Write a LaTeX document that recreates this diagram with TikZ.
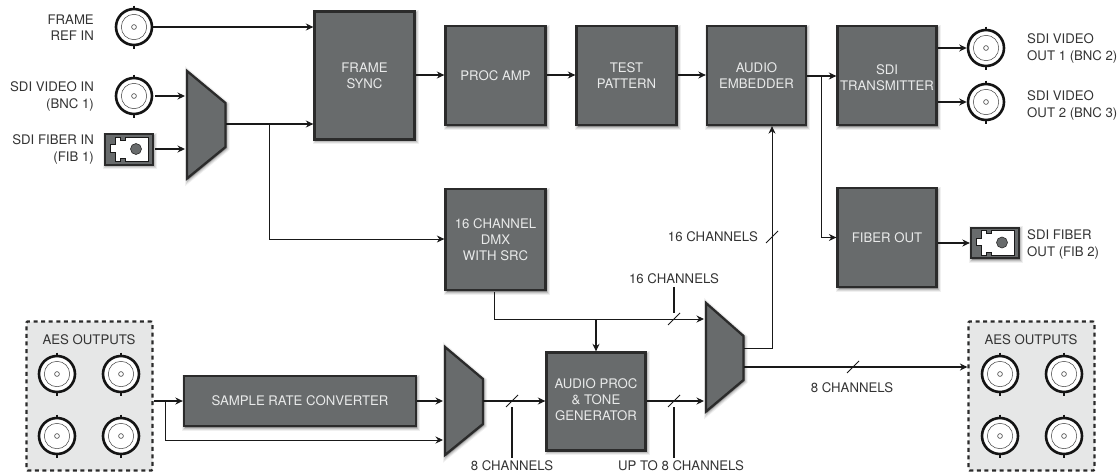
\documentclass[tikz,border=0pt]{standalone}
\usepackage{fontspec}
\setmainfont{TeX Gyre Heros}
\usetikzlibrary{arrows.meta,shadows,calc}
\definecolor{boxgray}{HTML}{686B6C}
\definecolor{edgegray}{HTML}{2B2B2B}
\definecolor{lblgray}{HTML}{333333}
\definecolor{panelgray}{HTML}{E6E7E7}
\definecolor{intext}{HTML}{E9EAEA}
\tikzset{
  softshadow/.style={
    general shadow={shadow xshift=1pt,shadow yshift=-1.5pt,opacity=.06,fill=black,draw=black,line width=6pt},
    general shadow={shadow xshift=1pt,shadow yshift=-1.5pt,opacity=.09,fill=black,draw=black,line width=4pt},
    general shadow={shadow xshift=1pt,shadow yshift=-1.5pt,opacity=.12,fill=black,draw=black,line width=2pt}},
  blockbase/.style={draw=edgegray,fill=boxgray,line width=2.3pt,softshadow,inner sep=0pt},
  block/.style={blockbase,align=center,text=intext,font=\fontsize{13.2}{16.2}\selectfont},
  blocktext/.style={inner sep=0pt,align=center,text=intext,font=\fontsize{13.2}{16.2}\selectfont},
  mux/.style={draw=edgegray,fill=boxgray,line width=2.3pt,line join=miter,softshadow},
  lbl/.style={text=lblgray,inner sep=0pt,font=\fontsize{13.2}{16.4}\selectfont},
  thickline/.style={draw=black!90,line width=1.5pt,-{Stealth[length=7.5pt,width=7pt]}},
  thinline/.style={draw=black!90,line width=1pt},
  thinarrow/.style={thinline,-{Stealth[length=7.5pt,width=7pt]}},
  slashmark/.style={draw=black!90,line width=.9pt},
  leader/.style={draw=black!90,line width=1.5pt},
  bncbody/.style={circle,draw=black!92,fill=white,line width=2.6pt,minimum size=36pt,inner sep=0pt},
  panel/.style={draw=edgegray,fill=panelgray,line width=2.2pt,dash pattern=on 4pt off 3.6pt,rounded corners=1pt},
}
% \bnc{name}{x}{y}
\newcommand{\bnc}[3]{%
  \draw[line width=1.2pt,black!92] (#2,#3-21.5) -- (#2,#3+21.5);
  \node[bncbody] (#1) at (#2,#3) {};
  \draw[line width=.5pt,black!75] (#2,#3) circle (12.7);
  \draw[line width=.6pt,black!75] (#2,#3) circle (2.4);
}
% \fiber{name}{x}{y}  centre of the connector
\newcommand{\fiber}[3]{%
  \node[blockbase,minimum width=48pt,minimum height=30.5pt] (#1) at (#2,#3) {};
  \fill[white,draw=black!90,line width=.7pt,shift={(#2,#3)}]
    (-14,-12.3) -- (-8.3,-12.3) -- (-8.3,-9.3) -- (-4,-9.3) -- (-4,-12.3) -- (19,-12.3) -- (19,12.3) -- (-4,12.3)
    -- (-4,9.3) -- (-8.3,9.3) -- (-8.3,12.3) -- (-14,12.3) -- (-14,2.8) -- (-19,2.8) -- (-19,-4.8) -- (-14,-4.8) -- cycle;
  \fill[boxgray,draw=edgegray,line width=.6pt] (#2+7,#3-.5) circle (5.5);
}
\begin{document}
\begin{tikzpicture}[x=1pt,y=-1pt]
\useasboundingbox (0,0) rectangle (1118,474);

% panels
\node[panel,minimum width=126pt,minimum height=149pt,inner sep=0pt] (aesL) at (89.5,396) {};
\node[panel,minimum width=126pt,minimum height=149pt,inner sep=0pt] (aesR) at (1031.5,396) {};
\node[lbl] (aesLt) at (89,339.5) {AES OUTPUTS};
\node[lbl] (aesRt) at (1031,339.5) {AES OUTPUTS};

\coordinate (split) at (269,124);
\coordinate (txsplit) at (821,76);
\coordinate (srcsplit) at (165,401);
\coordinate (mix) at (596,319);

% blocks
\node[block,minimum width=100pt,minimum height=128pt] (sync) at (364.5,75.5) {FRAME\\SYNC};
\node[block,minimum width=100pt,minimum height=99pt] (proc) at (495.5,75.5) {PROC AMP};
\node[block,minimum width=100pt,minimum height=99pt] (test) at (626.5,75.5) {TEST\\PATTERN};
\node[block,minimum width=99pt,minimum height=99pt] (emb) at (756.5,75.5) {AUDIO\\EMBEDDER};
\node[block,minimum width=99pt,minimum height=99pt] (tx) at (887,75.5) {};
\node[blocktext] (txtext) at (887,78) {SDI\\TRANSMITTER};
\node[block,minimum width=99pt,minimum height=99pt] (fib) at (887,237.5) {FIBER OUT};
\node[block,minimum width=100pt,minimum height=101pt] (dmx) at (495.5,239.5) {16 CHANNEL\\DMX\\WITH SRC};
\node[block,minimum width=232pt,minimum height=50pt] (src) at (300,401) {SAMPLE RATE CONVERTER};
\node[block,minimum width=99pt,minimum height=98pt] (aud) at (596,401.5) {};
\node[blocktext] (audtext) at (596,399.5) {AUDIO PROC\\\& TONE\\GENERATOR};

% muxes
\path[mux] (187,71) -- (225.5,103) -- (225.5,147) -- (187,178.5) -- cycle;
\path[mux] (445,347) -- (483,379) -- (483,424) -- (445,455) -- cycle;
\path[mux] (706,303) -- (743.5,336) -- (743.5,380) -- (706,411.5) -- cycle;
\coordinate (muxA) at (225.5,124);
\coordinate (muxAi1) at (185,96);
\coordinate (muxAi2) at (185,149);
\coordinate (muxB) at (483,401);
\coordinate (muxBi1) at (443,401);
\coordinate (muxBi2) at (443,440);
\coordinate (muxC) at (743.5,348);
\coordinate (muxCo) at (743.5,367);
\coordinate (muxCi1) at (704,319);
\coordinate (muxCi2) at (704,401);

% connectors
\bnc{frameref}{134}{27}
\bnc{sdiin}{134}{96}
\fiber{fibin}{129}{149.5}
\bnc{out1}{986}{48}
\bnc{out2}{986}{102}
\fiber{fibout}{995}{243}
\bnc{al1}{57}{374}
\bnc{al2}{121}{374}
\bnc{al3}{57}{436}
\bnc{al4}{121}{436}
\bnc{ar1}{1000}{374}
\bnc{ar2}{1064}{374}
\bnc{ar3}{1000}{436}
\bnc{ar4}{1064}{436}

\draw[thickline] (frameref.east) -- (sync.west |- frameref);
\draw[thickline] (sdiin.east) ++(2,0) -- (muxAi1);
\draw[thickline] (fibin.east) ++(1,-.5) -- (muxAi2);
\draw[thickline] (muxA) -- (sync.west |- muxA);
\draw[thinarrow] (split) |- (dmx.west |- 0,239);
\draw[thickline] (sync.east |- 0,75) -- (proc.west |- 0,75);
\draw[thickline] (proc.east |- 0,75) -- (test.west |- 0,75);
\draw[thickline] (test.east |- 0,75) -- (emb.west |- 0,75);
\draw[thickline] (emb.east |- txsplit) -- (tx.west |- txsplit);
\draw[thinarrow] (txsplit) |- (fib.west);
\draw[thickline] (tx.east |- out1) -- (out1.west);
\draw[thickline] (tx.east |- out2) -- (out2.west);
\draw[thickline] (fib.east |- fibout) -- (fibout.west);
\draw[thinarrow] (dmx.south) ++(-1,1) |- (muxCi1);
\draw[thickline] (mix) -- (aud.north);
\draw[thinarrow] (muxC) -| (emb.south -| 772,0);
\draw[thickline] (muxCo) -- (aesR.west |- muxCo);
\draw[thickline] (aud.east |- muxCi2) -- (muxCi2);
\draw[thickline] (muxB) -- (aud.west |- muxB);
\draw[thickline] (src.east |- muxBi1) -- (muxBi1);
\draw[thinarrow] (srcsplit) |- (muxBi2);
\draw[thickline] (aesL.east |- src) -- (src.west);

% slash marks and leaders
\coordinate (t1) at (674,319);
\coordinate (t2) at (674,401);
\coordinate (t3) at (512,401);
\coordinate (t4) at (853,367);
\coordinate (t5) at (772,237);
\foreach \t in {t1,t2,t3,t4,t5}
  \draw[slashmark] ($(\t)+(-6,6)$) -- ($(\t)+(6,-6)$);

\node[lbl,anchor=center] (l16a) at (674,278.5) {16 CHANNELS};
\node[lbl,anchor=east] (l16b) at (758,236.5) {16 CHANNELS};
\node[lbl] (l8a) at (512,466) {8 CHANNELS};
\node[lbl] (l8b) at (681,466) {UP TO 8 CHANNELS};
\node[lbl] (l8c) at (852,388) {8 CHANNELS};
\draw[leader] (l16a.south -| t1) ++(0,3) -- (674,313);
\draw[leader] (t2) ++(0,6) -- ($(l8b.north -| t2)+(0,-3)$);
\draw[leader] (t3) ++(0,6) -- ($(l8a.north -| t3)+(0,-3)$);

% labels
\node[lbl,align=right,anchor=east] (tl1) at (94,27.5) {FRAME\\REF IN};
\node[lbl,align=right,anchor=east] (tl2) at (94,96.5) {SDI VIDEO IN\\(BNC 1)};
\node[lbl,align=right,anchor=east] (tl3) at (94,149.5) {SDI FIBER IN\\(FIB 1)};
\node[lbl,align=left,anchor=west] (tr1) at (1027,48.5) {SDI VIDEO\\OUT 1 (BNC 2)};
\node[lbl,align=left,anchor=west] (tr2) at (1027,105.5) {SDI VIDEO\\OUT 2 (BNC 3)};
\node[lbl,align=left,anchor=west] (tr3) at (1027,244.5) {SDI FIBER\\OUT (FIB 2)};
\end{tikzpicture}
\end{document}
